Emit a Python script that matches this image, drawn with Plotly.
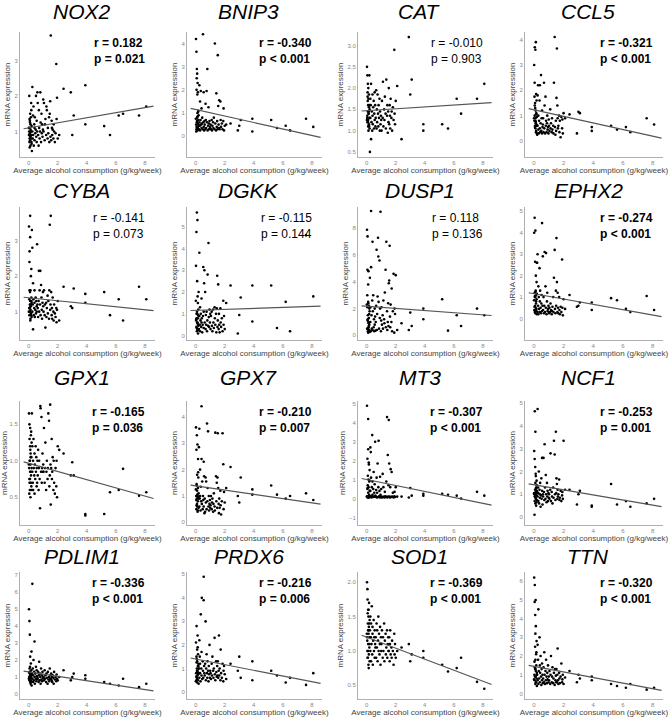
import plotly.graph_objects as go
from plotly.subplots import make_subplots

W, H = 669, 727

genes = ["NOX2", "BNIP3", "CAT", "CCL5",
         "CYBA", "DGKK", "DUSP1", "EPHX2",
         "GPX1", "GPX7", "MT3", "NCF1",
         "PDLIM1", "PRDX6", "SOD1", "TTN"]
r_text = ["0.182", "-0.340", "-0.010", "-0.321",
          "-0.141", "-0.115", "0.118", "-0.274",
          "-0.165", "-0.210", "-0.307", "-0.253",
          "-0.336", "-0.216", "-0.369", "-0.320"]
p_text = ["= 0.021", "< 0.001", "= 0.903", "< 0.001",
          "= 0.073", "= 0.144", "= 0.136", "< 0.001",
          "= 0.036", "= 0.007", "< 0.001", "= 0.001",
          "< 0.001", "= 0.006", "< 0.001", "< 0.001"]
significant = [True, True, False, True,
               False, False, False, True,
               True, True, True, True,
               True, True, True, True]

# regression line
fit_intercept = [1.1, 1.15, 1.47, 1.23, 1.39, 1.16, 2.17, 1.16,
                 0.965, 1.38, 1.0, 1.42, 1.3, 1.4, 1.2, 1.45]
fit_slope = [0.071, -0.14, 0.022, -0.13, -0.042, 0.022, -0.08, -0.124,
             -0.056, -0.08, -0.157, -0.112, -0.13, -0.12, -0.08, -0.15]
fit_x = [-0.35, 8.6]

y_ranges = [[0.28, 3.8], [-0.9, 4.5], [0.38, 3.32], [-0.63, 4.3],
            [0.2, 3.95], [-0.2, 5.9], [-0.35, 9.6], [-1.0, 5.2],
            [0.12, 1.82], [-0.1, 4.6], [-1.4, 5.15], [-0.35, 5.1],
            [-0.3, 7.2], [-0.3, 5.1], [0.3, 2.15], [-0.3, 6.5]]
y_ticks = [[1, 2, 3], [0, 1, 2, 3, 4], [0.5, 1.0, 1.5, 2.0, 2.5, 3.0], [0, 1, 2, 3, 4],
           [1, 2, 3], [0, 1, 2, 3, 4, 5], [0, 2, 4, 6, 8], [0, 1, 2, 3, 4, 5],
           [0.5, 1.0, 1.5], [0, 1, 2, 3, 4], [-1, 0, 1, 2, 3, 4, 5], [0, 1, 2, 3, 4, 5],
           [0, 1, 2, 3, 4, 5, 6, 7], [0, 1, 2, 3, 4, 5], [0.5, 1.0, 1.5, 2.0], [0, 1, 2, 3, 4, 5, 6]]
x_ticks = [0, 2, 4, 6, 8]

# average alcohol consumption (g/kg/week), same subjects in every panel
alcohol = [0.02, 0.03, 0.05, 0.05, 0.06, 0.08, 0.08, 0.1, 0.1, 0.1,
           0.12, 0.12, 0.13, 0.15, 0.15, 0.16, 0.18, 0.18, 0.2, 0.2,
           0.04, 0.07, 0.09, 0.11, 0.14, 0.17, 0.19, 0.01, 0.06, 0.13,
           0.22, 0.25, 0.25, 0.28, 0.3, 0.3, 0.33, 0.35, 0.38, 0.4,
           0.4, 0.42, 0.45, 0.48, 0.5, 0.52, 0.55, 0.55, 0.58, 0.6,
           0.62, 0.65, 0.68, 0.7, 0.72, 0.75, 0.78, 0.8,
           0.82, 0.85, 0.88, 0.9, 0.92, 0.95, 0.98, 1.0,
           1.02, 1.05, 1.1, 1.12, 1.15, 1.2, 1.22, 1.25,
           1.3, 1.32, 1.35, 1.4, 1.42, 1.45, 1.48, 1.5,
           1.52, 1.55, 1.58, 1.6, 1.62, 1.65, 1.7, 1.72,
           1.75, 1.8, 1.85, 1.9, 1.92, 1.95, 2.0, 2.1,
           2.4, 2.9, 3.0, 3.1, 3.9, 3.9, 5.2, 5.6, 6.2, 6.5, 7.6, 8.1]

nox2 = [0.9, 1.0, 0.7, 1.1, 0.8, 1.3, 0.95, 0.85, 1.5, 0.75, 1.2, 0.6, 1.05, 0.9, 1.4, 1.0, 0.8, 1.6, 0.65, 1.15,
        2.0, 0.55, 1.25, 0.9, 1.0, 1.8, 0.7, 1.1, 1.35, 0.85,
        0.45, 2.25, 1.0, 0.8, 1.45, 0.9, 1.7, 0.6, 1.2, 1.1, 0.75, 1.4, 0.95, 1.05, 2.0, 0.85, 1.3, 0.7, 1.0, 2.1,
        1.8, 0.9, 0.6, 1.6, 1.1, 0.8, 1.0, 2.1, 1.25, 0.7, 1.5, 0.95, 1.2, 0.85, 1.05, 1.9,
        1.0, 1.8, 0.75, 1.2, 1.35, 0.9, 1.7, 1.6, 0.8, 1.1, 0.95, 1.4, 0.7, 1.5, 1.85, 0.85,
        3.7, 0.75, 1.3, 1.1, 0.9, 1.05, 0.8, 1.2, 1.0, 0.7, 0.95, 2.9, 1.35, 1.95, 0.8, 0.9,
        2.2, 2.1, 0.9, 1.45, 2.3, 1.2, 1.15, 0.9, 1.45, 1.5, 1.45, 1.7]
bnip3 = [4.2, 0.5, 3.65, 0.3, 2.0, 0.6, 2.9, 0.4, 2.7, 0.8, 1.0, 0.25, 2.3, 0.55, 1.9, 0.35, 0.7, 1.1, 0.45, 0.9,
         0.2, 2.5, 0.65, 1.8, 0.3, 1.05, 0.5, 0.75, 0.4, 0.85,
         0.3, 2.2, 0.6, 0.45, 1.5, 0.25, 0.7, 1.95, 0.5, 0.35, 1.2, 0.55, 0.8, 0.3, 4.4, 0.6, 0.4, 1.9, 0.25, 0.65,
         0.5, 0.3, 1.4, 0.7, 0.35, 1.95, 0.6, 2.9, 0.25, 0.45, 1.25, 0.55, 0.3, 0.65, 0.4, 0.35,
         0.5, 0.3, 0.7, 0.25, 0.45, 0.6, 0.35, 0.8, 0.3, 4.0, 0.55, 0.25, 1.85, 0.4, 0.65, 0.3,
         3.5, 1.3, 0.5, 0.35, 1.55, 0.3, 1.5, 0.7, 0.4, 0.55, 0.3, 0.65, 1.2, 0.25, 0.45, 0.5,
         0.55, 0.25, 0.45, 0.7, 0.75, 0.2, 0.7, 0.35, 0.45, 0.25, 0.75, 0.4]
cat = [2.5, 1.3, 2.3, 1.2, 1.9, 1.45, 2.1, 1.1, 1.6, 1.25, 1.75, 1.0, 1.4, 1.55, 1.15, 1.85, 1.3, 2.3, 1.05, 1.5,
       1.35, 1.7, 1.2, 2.0, 1.45, 1.1, 1.6, 1.25, 1.8, 1.4,
       0.5, 1.75, 1.3, 1.6, 0.8, 2.1, 1.2, 1.45, 1.0, 1.85, 1.35, 1.15, 1.55, 1.7, 1.05, 1.4, 1.9, 1.25, 1.6, 1.1,
       1.3, 1.95, 1.05, 1.5, 1.2, 1.85, 1.4, 1.1, 1.6, 1.3, 1.75, 1.0, 1.45, 1.15, 1.35, 1.25,
       1.0, 1.7, 1.3, 2.15, 1.1, 1.5, 1.25, 1.8, 1.4, 1.05, 2.2, 1.35, 1.6, 0.95, 1.45, 1.2,
       2.0, 1.15, 1.6, 1.35, 1.05, 1.75, 1.3, 1.45, 1.0, 1.55, 1.25, 2.9, 1.4, 1.15, 1.7, 2.05,
       0.8, 3.2, 1.85, 2.2, 1.0, 1.15, 1.15, 1.05, 1.75, 1.4, 1.75, 2.1]
ccl5 = [3.0, 0.8, 2.3, 1.0, 3.7, 0.6, 1.5, 0.9, 3.6, 0.5, 1.2, 0.7, 3.9, 1.85, 0.4, 1.1, 0.65, 1.6, 0.3, 0.95,
        1.75, 0.55, 1.3, 0.8, 0.35, 1.05, 0.6, 0.9, 1.4, 0.75,
        0.25, 1.8, 0.6, 2.2, 0.45, 1.0, 0.3, 0.8, 1.6, 0.5, 2.2, 0.35, 0.7, 2.6, 0.4, 0.9, 0.3, 1.2, 0.55, 0.65,
        0.9, 0.35, 2.3, 0.5, 1.4, 0.3, 1.75, 0.6, 0.8, 0.35, 0.7, 1.0, 0.45, 0.55, 0.3, 0.85,
        0.6, 0.4, 1.25, 0.5, 0.7, 0.35, 0.9, 0.45, 0.6, 0.3, 2.3, 4.1, 0.55, 0.25, 0.8, 0.4,
        1.7, 3.65, 1.4, 0.9, 0.5, 0.6, 1.0, 0.35, 0.8, 0.15, 0.95, 0.5, 0.85, 0.3, 1.1, 0.9,
        1.05, 0.3, 1.15, 1.1, 0.55, 0.4, 0.6, 0.45, 0.55, 0.35, 0.9, 0.65]
cyba = [3.4, 1.1, 2.4, 0.9, 2.7, 1.2, 1.0, 3.7, 3.1, 1.3, 1.6, 0.8, 1.05, 2.0, 1.15, 0.95, 1.4, 2.2, 1.25, 0.85,
        1.35, 1.1, 1.55, 0.75, 1.2, 0.9, 1.3, 1.0, 1.6, 1.15,
        3.3, 1.0, 2.8, 1.2, 0.5, 1.8, 1.35, 0.9, 1.1, 1.6, 1.25, 0.85, 1.05, 1.4, 0.95, 1.3, 1.15, 1.0, 2.9, 1.2,
        1.1, 0.85, 1.3, 2.15, 1.0, 1.6, 1.2, 2.15, 0.9, 1.75, 1.4, 1.05, 0.8, 1.25, 1.55, 1.15,
        1.0, 1.6, 0.9, 1.2, 0.55, 1.25, 0.85, 1.1, 1.45, 0.95, 1.3, 0.8, 1.6, 3.45, 1.05, 1.2,
        3.7, 1.55, 0.9, 1.1, 0.8, 1.4, 1.0, 0.75, 1.2, 0.95, 0.85, 1.1, 0.7, 1.05, 1.3, 0.75,
        1.7, 1.15, 1.1, 1.65, 1.5, 1.25, 1.55, 0.9, 1.35, 0.75, 1.7, 1.35]
dgkk = [3.2, 0.7, 4.75, 0.4, 1.0, 0.2, 5.65, 0.6, 2.5, 1.0, 5.3, 0.3, 1.8, 0.8, 1.5, 0.1, 1.2, 0.5, 2.0, 0.9,
        0.75, 0.35, 1.1, 0.6, 0.25, 0.95, 0.45, 1.6, 0.8, 0.55,
        0.3, 3.8, 0.9, 0.5, 1.3, 0.2, 0.7, 1.0, 0.4, 1.7, 0.6, 0.8, 0.15, 0.5, 0.9, 3.15, 1.1, 0.35, 2.4, 3.0,
        0.6, 2.0, 0.3, 0.95, 0.5, 1.1, 0.2, 0.7, 2.8, 0.45, 4.25, 0.85, 0.4, 1.2, 0.6, 1.0,
        0.3, 0.9, 1.1, 0.45, 0.2, 1.2, 0.6, 0.35, 1.3, 0.8, 0.5, 1.0, 0.15, 1.25, 2.75, 0.4,
        0.7, 2.35, 0.3, 1.0, 0.5, 0.15, 1.25, 0.6, 0.4, 0.8, 0.2, 1.6, 0.5, 0.9, 0.3, 1.5,
        2.3, 0.1, 0.95, 1.75, 2.3, 0.65, 2.3, 0.35, 1.55, 0.2, 4.6, 1.8]
dusp1 = [7.9, 0.5, 4.9, 2.1, 7.4, 0.3, 1.5, 3.8, 0.2, 2.5, 1.0, 4.8, 0.6, 2.2, 1.3, 0.4, 2.0, 0.8, 1.8, 0.25,
         3.0, 1.2, 0.5, 2.4, 0.7, 1.6, 0.35, 2.3, 1.1, 0.9,
         4.3, 1.0, 2.1, 0.3, 5.1, 9.3, 1.5, 0.5, 2.6, 7.0, 0.4, 1.8, 3.0, 0.6, 1.2, 0.3, 2.0, 0.8, 1.4, 0.35,
         1.0, 2.2, 6.4, 0.4, 1.6, 2.9, 7.3, 5.9, 2.5, 0.5, 5.6, 1.3, 2.0, 9.25, 0.3, 1.1,
         2.1, 0.8, 1.5, 0.5, 2.6, 1.2, 0.9, 3.2, 4.9, 0.6, 7.0, 1.8, 0.4, 1.0, 2.4, 0.7,
         3.9, 4.1, 6.7, 1.4, 0.6, 2.3, 1.0, 3.5, 0.3, 1.8, 4.6, 0.2, 2.0, 1.6, 4.5, 0.4,
         0.9, 0.4, 1.7, 0.7, 2.0, 1.2, 2.7, 0.35, 1.5, 0.7, 2.0, 1.5]
ephx2 = [4.0, 0.4, 4.7, 1.2, 0.3, 2.65, 0.6, 1.0, 4.1, 0.25, 1.3, 0.5, 2.0, 0.8, 1.1, 0.35, 1.7, 0.9, 0.2, 1.15,
         0.55, 1.05, 0.3, 1.25, 0.7, 0.45, 2.6, 0.85, 1.0, 0.4,
         2.6, 0.3, 3.0, 0.6, 1.5, 0.2, 1.0, 0.45, 2.35, 0.8, 0.3, 1.3, 0.5, 0.25, 0.7, 1.1, 4.45, 0.35, 0.6, 2.9,
         0.4, 1.0, 0.25, 0.6, 3.1, 0.3, 1.5, 0.5, 3.05, 0.2, 0.8, 1.2, 0.35, 0.45, 0.6, 0.3,
         0.25, 0.5, 0.3, 0.7, 0.4, 0.2, 0.35, 0.55, 1.0, 0.3, 1.9, 3.2, 0.45, 0.25, 1.3, 0.6,
         3.75, 1.7, 0.3, 1.2, 0.5, 0.25, 1.0, 0.4, 0.2, 0.55, 0.3, 2.75, 0.5, 0.15, 0.9, 0.45,
         1.1, 0.55, 0.6, 0.75, 0.75, 0.4, 0.95, 0.85, 0.45, 0.3, 1.05, 0.4]
gpx1 = [1.65, 0.9, 1.5, 0.75, 1.3, 1.0, 0.6, 1.2, 0.85, 1.45, 0.5, 0.95, 1.1, 0.7, 1.35, 0.8, 1.05, 0.65, 0.9, 1.25,
        0.55, 1.0, 0.75, 1.15, 0.85, 1.4, 0.6, 0.95, 0.7, 1.05,
        1.65, 0.85, 1.2, 0.7, 1.0, 0.6, 1.3, 0.9, 0.8, 1.1, 0.55, 0.95, 0.75, 1.2, 0.85, 1.05, 0.65, 0.9, 0.7, 1.0,
        0.8, 1.15, 0.6, 0.9, 1.0, 0.75, 0.35, 1.75, 1.72, 0.85, 1.6, 0.7, 0.9, 1.1, 0.85, 0.95,
        0.85, 1.45, 0.7, 0.9, 1.25, 0.6, 0.85, 1.0, 0.75, 0.9, 1.65, 1.55, 0.65, 0.8, 1.77, 0.95,
        0.4, 0.9, 1.3, 0.75, 0.85, 1.05, 0.6, 1.0, 0.7, 0.55, 0.9, 0.65, 1.0, 0.5, 1.2, 1.15,
        1.1, 0.8, 0.98, 0.8, 0.25, 0.27, 0.27, 0.57, 0.6, 0.89, 0.52, 0.57]
gpx7 = [3.6, 1.0, 2.75, 0.5, 1.45, 0.9, 3.3, 1.2, 0.6, 1.8, 1.0, 2.95, 0.4, 1.3, 0.8, 2.4, 0.95, 1.7, 0.55, 1.1,
        0.85, 1.4, 0.7, 1.05, 0.45, 1.9, 0.9, 1.25, 0.65, 1.0,
        2.85, 0.6, 3.55, 0.9, 1.0, 2.0, 0.45, 1.35, 0.8, 2.4, 4.4, 0.7, 1.55, 0.5, 1.0, 0.85, 2.3, 0.6, 1.75, 0.35,
        0.9, 0.4, 1.7, 0.75, 1.55, 0.5, 3.75, 0.8, 1.3, 3.45, 0.6, 1.0, 0.45, 0.7, 0.85, 0.55,
        0.65, 1.0, 0.5, 0.75, 0.9, 0.4, 0.7, 1.1, 0.6, 0.45, 3.4, 1.75, 0.8, 1.5, 0.55, 1.7,
        3.38, 1.3, 0.7, 0.35, 0.9, 0.55, 1.2, 0.65, 0.3, 0.8, 3.38, 2.2, 0.5, 1.15, 0.75, 1.3,
        2.1, 1.0, 0.75, 1.7, 1.25, 1.05, 1.4, 1.05, 0.9, 1.0, 1.1, 0.85]
mt3 = [4.9, 0.1, 2.1, 0.5, 0.05, 1.2, 0.1, 4.2, 2.6, 0.3, 0.1, 1.0, 0.6, 0.05, 1.8, 0.15, 0.9, 0.1, 0.4, 1.5,
       0.08, 0.7, 0.12, 0.05, 1.9, 0.2, 0.95, 0.1, 0.55, 0.1,
       0.08, 2.7, 0.4, 2.45, 0.12, 1.1, 0.05, 0.6, 3.35, 0.2, 0.9, 0.1, 0.5, 1.4, 0.08, 0.3, 0.1, 0.75, 3.0, 0.15,
       0.1, 0.45, 1.1, 0.05, 0.3, 1.85, 0.08, 0.6, 3.05, 0.12, 0.4, 0.05, 1.15, 0.2, 0.08, 0.5,
       0.1, 0.05, 1.3, 0.08, 0.6, 0.1, 0.05, 0.35, 0.12, 0.08, 0.9, 4.3, 0.05, 2.3, 0.1, 0.7,
       4.15, 1.85, 0.1, 0.05, 0.6, 1.55, 0.08, 1.4, 0.1, 0.3, 0.05, 0.12, 0.35, 0.08, 0.6, 0.1,
       0.1, 0.05, 0.55, 0.15, 0.25, 0.15, 0.25, 0.2, 0.15, 0.0, 0.35, 0.15]
ncf1 = [2.9, 1.0, 2.55, 0.7, 4.65, 1.2, 0.9, 1.5, 3.75, 0.6, 1.1, 1.9, 0.8, 1.3, 0.5, 1.05, 0.95, 1.6, 0.75, 1.15,
        0.1, 1.0, 2.2, 0.85, 1.25, 0.65, 1.4, 1.05, 0.9, 1.8,
        1.1, 4.75, 0.9, 1.3, 0.7, 1.05, 2.0, 0.6, 1.2, 0.85, 1.0, 1.5, 0.45, 0.95, 1.7, 0.8, 2.6, 1.15, 0.55, 1.0,
        0.9, 2.6, 1.1, 0.75, 3.2, 1.3, 0.8, 1.85, 1.0, 0.65, 1.5, 0.9, 1.15, 0.7, 1.05, 0.85,
        1.0, 0.8, 1.2, 2.8, 0.7, 1.1, 0.9, 0.6, 1.3, 0.85, 3.35, 2.75, 1.0, 0.75, 3.75, 1.05,
        1.7, 1.45, 0.8, 1.2, 0.9, 1.0, 1.65, 0.75, 0.85, 1.15, 0.7, 0.95, 1.1, 0.8, 3.35, 1.2,
        1.2, 0.55, 1.0, 1.15, 0.5, 0.45, 1.45, 0.55, 0.7, 0.45, 0.6, 0.8]
pdlim1 = [5.0, 1.0, 4.3, 0.8, 1.5, 1.2, 3.5, 0.7, 1.1, 2.2, 0.9, 1.3, 0.6, 1.8, 1.0, 0.75, 1.4, 0.95, 1.1, 0.5,
          1.25, 0.85, 1.6, 1.0, 0.7, 1.15, 2.5, 0.9, 1.3, 0.8,
          1.2, 6.5, 0.9, 1.5, 0.7, 1.1, 2.0, 0.8, 1.3, 1.0, 3.1, 0.6, 1.2, 0.9, 1.6, 0.75, 1.05, 1.4, 0.85, 1.0,
          0.9, 1.3, 0.7, 1.1, 1.9, 0.8, 1.2, 1.0, 0.6, 1.5, 0.85, 1.1, 0.75, 1.3, 0.95, 1.0,
          1.0, 0.8, 1.4, 0.9, 1.1, 0.7, 1.2, 0.95, 0.6, 1.3, 0.85, 1.0, 0.75, 1.5, 0.9, 1.1,
          0.9, 1.2, 0.8, 1.0, 0.7, 1.1, 0.95, 0.6, 1.3, 0.85, 1.0, 0.75, 1.15, 0.9, 0.8, 1.0,
          1.4, 0.8, 1.0, 1.2, 0.9, 1.1, 0.7, 0.6, 0.5, 0.9, 0.4, 0.6]
prdx6 = [2.1, 0.8, 1.5, 0.5, 2.8, 1.0, 0.6, 1.3, 0.4, 1.8, 0.9, 0.7, 2.4, 1.1, 0.5, 1.6, 0.8, 1.2, 0.35, 1.0,
         0.65, 1.4, 0.9, 0.55, 1.9, 0.75, 1.1, 0.45, 1.25, 0.85,
         1.0, 2.2, 0.6, 1.5, 0.8, 1.2, 0.45, 3.3, 1.0, 0.7, 1.7, 4.0, 0.55, 1.3, 0.9, 0.6, 4.9, 3.9, 1.1, 0.8,
         0.7, 1.2, 3.0, 0.5, 1.0, 1.6, 0.8, 0.6, 1.3, 0.9, 0.45, 1.1, 0.75, 2.0, 0.6, 0.9,
         0.8, 0.55, 1.2, 0.7, 1.5, 0.9, 0.6, 1.0, 2.3, 0.75, 0.5, 1.3, 0.85, 0.65, 1.1, 0.7,
         1.3, 0.6, 0.9, 2.4, 0.7, 1.0, 0.5, 1.8, 0.8, 0.6, 1.2, 0.45, 0.9, 1.1, 0.75, 0.55,
         1.2, 0.9, 1.5, 0.6, 1.3, 0.5, 0.9, 0.7, 0.4, 0.6, 0.3, 0.8]
sod1 = [2.0, 1.2, 1.9, 1.0, 1.75, 1.4, 0.9, 1.3, 1.6, 1.1, 0.8, 1.5, 1.25, 0.95, 1.35, 1.7, 1.05, 1.2, 0.85, 1.45,
        1.15, 1.55, 1.0, 1.3, 0.75, 1.4, 1.1, 1.25, 0.9, 1.6,
        1.3, 1.0, 1.5, 1.2, 0.85, 1.4, 1.1, 1.65, 0.95, 1.25, 1.35, 0.8, 1.15, 1.45, 1.0, 1.2, 0.9, 1.3, 1.1, 1.05,
        1.2, 0.9, 1.4, 1.05, 1.3, 0.85, 1.15, 1.5, 1.0, 1.25, 0.95, 1.1, 1.35, 0.8, 1.2, 1.0,
        1.1, 1.3, 0.9, 1.2, 1.0, 1.4, 0.85, 1.15, 1.25, 0.95, 1.05, 1.3, 0.9, 1.1, 1.2, 1.0,
        1.0, 1.2, 0.85, 1.1, 1.3, 0.95, 1.05, 0.9, 1.15, 1.0, 0.8, 1.25, 0.95, 1.1, 0.9, 1.0,
        1.05, 1.1, 0.85, 0.95, 1.0, 0.9, 0.8, 0.7, 0.75, 0.9, 0.55, 0.45]
ttn = [6.2, 1.0, 4.9, 0.7, 5.8, 1.3, 2.5, 0.5, 1.8, 3.2, 0.9, 5.0, 1.2, 0.6, 2.1, 1.5, 0.8, 2.8, 1.1, 0.4,
       1.7, 0.9, 4.2, 1.3, 0.6, 2.2, 1.0, 0.75, 1.4, 3.6,
       1.0, 2.6, 0.7, 1.8, 0.5, 4.5, 1.2, 0.8, 3.0, 1.5, 0.6, 1.1, 2.0, 0.9, 0.45, 1.3, 0.7, 1.6, 1.0, 0.55,
       0.8, 1.4, 0.6, 2.2, 1.0, 0.5, 1.2, 0.7, 1.8, 0.9, 0.55, 1.1, 0.75, 1.5, 0.6, 0.9,
       0.7, 1.2, 0.5, 1.0, 2.0, 0.6, 0.9, 1.4, 0.55, 0.8, 1.1, 0.45, 1.3, 0.7, 0.95, 0.6,
       1.3, 0.6, 1.0, 2.4, 0.7, 0.5, 1.1, 0.8, 0.55, 0.9, 1.6, 0.6, 0.75, 1.0, 0.5, 0.85,
       1.2, 0.6, 1.0, 0.8, 0.7, 0.9, 0.5, 0.4, 0.3, 0.5, 0.2, 0.3]

expression = [nox2, bnip3, cat, ccl5, cyba, dgkk, dusp1, ephx2,
              gpx1, gpx7, mt3, ncf1, pdlim1, prdx6, sod1, ttn]
for g, ys in zip(genes, expression):
    assert len(ys) == len(alcohol), f"{g}: {len(ys)} vs {len(alcohol)}"

# panel geometry in pixels
col_left = [20, 187, 358, 525]
col_right = [155, 322, 493, 663]
row_top = [32, 207, 401, 572]
row_bot = [157, 340, 525, 699]
title_y = [12, 190, 377, 556]

FONT = "Liberation Sans, Arial, sans-serif"

fig = make_subplots(rows=4, cols=4)

for i, gene in enumerate(genes):
    r, c = i // 4 + 1, i % 4 + 1
    ys = expression[i]
    fig.add_trace(go.Scatter(x=alcohol, y=ys, mode="markers",
                             marker=dict(color="black", size=2.6, symbol="circle"),
                             showlegend=False), row=r, col=c)
    fit_y = [fit_intercept[i] + fit_slope[i] * xv for xv in fit_x]
    fig.add_trace(go.Scatter(x=fit_x, y=fit_y, mode="lines",
                             line=dict(color="#555555", width=1.2),
                             showlegend=False), row=r, col=c)

    x0, x1 = col_left[c - 1] / W, col_right[c - 1] / W
    y0, y1 = 1 - row_bot[r - 1] / H, 1 - row_top[r - 1] / H
    decimal = any(t != int(t) for t in y_ticks[i])
    fig.update_xaxes(domain=[x0, x1], range=[-0.6, 8.7], tickvals=x_ticks,
                     showline=True, linecolor="#b0b0b0", linewidth=1,
                     showgrid=False, zeroline=False, ticks="",
                     tickfont=dict(size=6, color="#888888", family=FONT),
                     title=dict(text="Average alcohol consumption (g/kg/week)",
                                font=dict(size=8, color="#444444", family=FONT), standoff=2),
                     row=r, col=c)
    fig.update_yaxes(domain=[y0, y1], range=y_ranges[i], tickvals=y_ticks[i],
                     tickformat=".1f" if decimal else "d",
                     showline=True, linecolor="#b0b0b0", linewidth=1,
                     showgrid=False, zeroline=False, ticks="",
                     tickfont=dict(size=6, color="#888888", family=FONT),
                     title=dict(text="mRNA expression",
                                font=dict(size=8, color="#444444", family=FONT), standoff=2),
                     row=r, col=c)

    # gene title
    fig.add_annotation(x=(col_left[c - 1] + col_right[c - 1]) / 2 / W - 6 / W,
                       y=1 - title_y[r - 1] / H, xref="paper", yref="paper",
                       text=f"<i>{gene}</i>", showarrow=False,
                       xanchor="center", yanchor="middle",
                       font=dict(size=21, color="black", family=FONT))
    # correlation stats
    stat = f"r = {r_text[i]}<br>p {p_text[i]}"
    if significant[i]:
        stat = f"<b>r = {r_text[i]}</b><br><b>p {p_text[i]}</b>"
    fig.add_annotation(x=(col_right[c - 1] - 8) / W, y=1 - (row_top[r - 1] + 2) / H,
                       xref="paper", yref="paper", text=stat, showarrow=False,
                       xanchor="right", yanchor="top", align="left",
                       font=dict(size=12, color="black", family=FONT))

fig.update_layout(width=W, height=H, margin=dict(l=0, r=0, t=0, b=0),
                  paper_bgcolor="white", plot_bgcolor="white",
                  font=dict(family=FONT))

fig.write_html("out.html", config={"displayModeBar": False},
               post_script="document.body.style.margin='0';")
